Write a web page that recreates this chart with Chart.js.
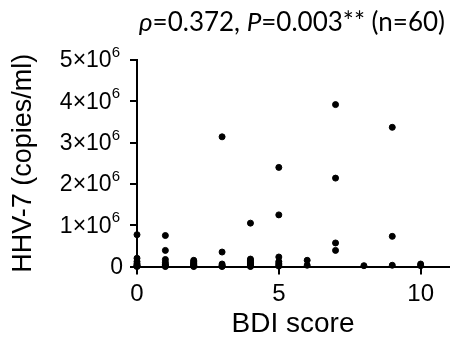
<!DOCTYPE html>
<html>
<head>
<meta charset="utf-8">
<script src="https://cdn.jsdelivr.net/npm/chart.js@4"></script>
<style>
  html, body { margin: 0; padding: 0; background: #fff; }
  #wrap { width: 453px; height: 338px; }
</style>
</head>
<body>
<div id="wrap"><canvas id="chart" width="453" height="338"></canvas></div>
<script>
// BDI 评分 (x) 与 HHV-7 拷贝数 (y)，n=60
const bdiScores = [
    0, 0, 0, 0, 0, 0, 0, 0,
    1, 1, 1, 1, 1, 1, 1, 1,
    2, 2, 2, 2, 2, 2, 2, 2, 2,
    3, 3, 3, 3, 3, 3,
    4, 4, 4, 4, 4, 4, 4, 4, 4, 4,
    5, 5, 5, 5, 5, 5, 5,
    6, 6,
    7, 7, 7, 7,
    8,
    9, 9, 9,
    10, 10
];
const hhv7Copies = [
    770000, 200000, 120000, 70000, 40000, 20000, 10000, 0,
    750000, 390000, 170000, 100000, 50000, 30000, 10000, 0,
    150000, 120000, 90000, 70000, 50000, 30000, 20000, 10000, 0,
    3140000, 350000, 60000, 30000, 10000, 0,
    1050000, 180000, 150000, 120000, 90000, 70000, 50000, 30000, 10000, 0,
    2400000, 1250000, 230000, 120000, 80000, 40000, 10000,
    150000, 30000,
    3920000, 2140000, 570000, 390000,
    20000,
    3370000, 730000, 30000,
    60000, 20000
];
const xTicks = [0, 5, 10];
const yTicks = [0, 1, 2, 3, 4, 5];   // ×10^6
const titleParts = [
    { text: 'ρ', italic: true },
    { text: '=0.372, ', italic: false },
    { text: 'P', italic: true },
    { text: '=0.003** (n=60)', italic: false }
];

// 顶部标题（ρ 和 P 用斜体）+ y 轴刻度标签（带上标 6）
const labelPlugin = {
    id: 'labels',
    afterDraw(chart) {
        const ctx = chart.ctx;
        ctx.save();
        ctx.fillStyle = '#000';

        const size = 26;
        const fontOf = p => (p.italic ? 'italic ' : '') + size + 'px Lato';
        let total = 0;
        titleParts.forEach(p => { ctx.font = fontOf(p); total += ctx.measureText(p.text).width; });
        let x = 292 - total / 2;
        ctx.textBaseline = 'alphabetic';
        titleParts.forEach(p => {
            ctx.font = fontOf(p);
            ctx.fillText(p.text, x, 31);
            x += ctx.measureText(p.text).width;
        });

        const yScale = chart.scales.y;
        const right = yScale.right - 14;
        ctx.textBaseline = 'middle';
        ctx.textAlign = 'right';
        yTicks.forEach(v => {
            const py = yScale.getPixelForValue(v * 1e6);
            if (v === 0) {
                ctx.font = '23px "Liberation Sans"';
                ctx.fillText('0', right, py + 1);
                return;
            }
            ctx.font = '15px "Liberation Sans"';
            const supW = ctx.measureText('6').width;
            ctx.fillText('6', right - 3, py - 7);
            ctx.font = '23px "Liberation Sans"';
            ctx.fillText(v + '×10', right - 3 - supW, py + 1);
        });
        ctx.restore();
    }
};

new Chart(document.getElementById('chart'), {
    type: 'scatter',
    data: {
        datasets: [{
            data: bdiScores.map((s, i) => ({ x: s, y: hhv7Copies[i] })),
            backgroundColor: '#000',
            borderColor: '#000',
            pointRadius: 3,
            pointHoverRadius: 3,
            clip: false
        }]
    },
    options: {
        responsive: false,
        animation: false,
        layout: {
            padding: { top: 60, right: 3, left: 0, bottom: 0 }
        },
        plugins: {
            legend: { display: false },
            tooltip: { enabled: false }
        },
        scales: {
            x: {
                type: 'linear',
                min: 0,
                max: 11,
                afterFit: s => { s.height = 71.5; },
                afterBuildTicks: s => { s.ticks = xTicks.map(v => ({ value: v })); },
                border: { display: true, color: '#000', width: 2 },
                grid: {
                    drawOnChartArea: false,
                    drawTicks: true,
                    tickLength: 8,
                    color: '#000',
                    lineWidth: 2
                },
                ticks: {
                    color: '#000',
                    padding: 5,
                    maxRotation: 0,
                    font: { family: 'Liberation Sans', size: 24 }
                },
                title: {
                    display: true,
                    text: 'BDI score',
                    color: '#000',
                    font: { family: 'Liberation Sans', size: 28, lineHeight: 1 },
                    padding: { top: 0, bottom: 0 }
                }
            },
            y: {
                type: 'linear',
                min: 0,
                max: 5000000,
                afterFit: s => { s.width = 137; },
                afterBuildTicks: s => { s.ticks = yTicks.map(v => ({ value: v * 1e6 })); },
                border: { display: true, color: '#000', width: 2 },
                grid: {
                    drawOnChartArea: false,
                    drawTicks: true,
                    tickLength: 7,
                    color: '#000',
                    lineWidth: 2
                },
                ticks: { display: false },
                title: {
                    display: true,
                    text: 'HHV-7 (copies/ml)',
                    color: '#000',
                    font: { family: 'Liberation Sans', size: 27, lineHeight: 1 },
                    padding: { top: 10, bottom: 0 }
                }
            }
        }
    },
    plugins: [labelPlugin]
});
</script>
</body>
</html>
